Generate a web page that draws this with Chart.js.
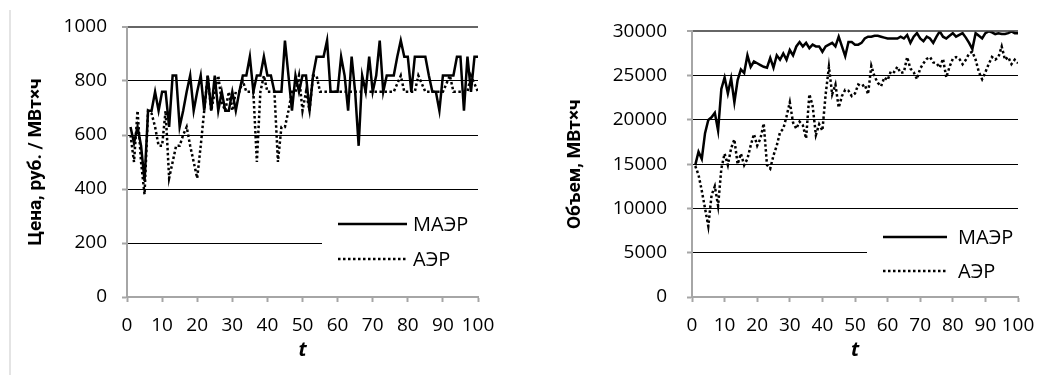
<!DOCTYPE html>
<html>
<head>
<meta charset="utf-8">
<script src="https://cdn.jsdelivr.net/npm/chart.js@4.4.1/dist/chart.umd.min.js"></script>
<style>
html, body { margin: 0; padding: 0; background: #fff; }
#wrap { position: relative; width: 1060px; height: 375px; overflow: hidden; }
.panel { position: absolute; top: 0; width: 530px; height: 375px; }
#edge { position: absolute; left: 9px; top: 10px; width: 2px; height: 365px; background: #e4e4e4; }
</style>
</head>
<body>
<div id="wrap">
    <div id="edge"></div>
    <div class="panel" style="left:0"><canvas id="price-chart"></canvas></div>
    <div class="panel" style="left:530px"><canvas id="volume-chart"></canvas></div>
</div>
<script>
const tValues = [
    1, 2, 3, 4, 5, 6, 7, 8, 9, 10,
    11, 12, 13, 14, 15, 16, 17, 18, 19, 20,
    21, 22, 23, 24, 25, 26, 27, 28, 29, 30,
    31, 32, 33, 34, 35, 36, 37, 38, 39, 40,
    41, 42, 43, 44, 45, 46, 47, 48, 49, 50,
    51, 52, 53, 54, 55, 56, 57, 58, 59, 60,
    61, 62, 63, 64, 65, 66, 67, 68, 69, 70,
    71, 72, 73, 74, 75, 76, 77, 78, 79, 80,
    81, 82, 83, 84, 85, 86, 87, 88, 89, 90,
    91, 92, 93, 94, 95, 96, 97, 98, 99, 100
];

const seriesNames = ['МАЭР', 'АЭР'];

// цена, руб. / МВт×ч
const priceMaer = [
    630, 570, 630, 560, 430, 690, 690, 760, 690, 760,
    760, 630, 820, 820, 630, 690, 760, 820, 690, 760,
    820, 690, 820, 690, 820, 690, 760, 690, 690, 760,
    690, 760, 820, 820, 890, 760, 820, 820, 890, 820,
    820, 760, 760, 760, 950, 820, 690, 820, 760, 820,
    820, 690, 820, 890, 890, 890, 950, 760, 760, 760,
    890, 820, 690, 890, 760, 560, 820, 760, 890, 760,
    820, 950, 760, 820, 820, 820, 890, 950, 890, 890,
    760, 890, 890, 890, 890, 820, 760, 760, 690, 820,
    820, 820, 820, 890, 890, 690, 890, 760, 890, 890
];
const priceAer = [
    600, 500, 690, 500, 380, 690, 680, 630, 560, 560,
    690, 440, 500, 560, 560, 600, 630, 560, 500, 440,
    560, 690, 820, 690, 760, 820, 720, 690, 760, 690,
    760, 760, 800, 760, 760, 760, 500, 760, 820, 760,
    760, 760, 500, 630, 630, 690, 760, 760, 820, 690,
    760, 690, 820, 820, 760, 760, 760, 760, 760, 760,
    760, 760, 760, 760, 760, 760, 760, 760, 760, 760,
    760, 760, 760, 760, 760, 760, 790, 820, 760, 760,
    760, 760, 820, 790, 760, 760, 760, 760, 760, 760,
    790, 820, 760, 760, 760, 760, 760, 820, 790, 760
];

// объем, МВт×ч
const volumeMaer = [
    14900, 16400, 15600, 18500, 20000, 20300, 20800, 18800, 23500, 24800,
    23000, 24700, 22000, 24500, 25700, 25300, 27300, 26000, 26600, 26400,
    26200, 26000, 25900, 27000, 25900, 27300, 26800, 27500, 26800, 27900,
    27300, 28300, 28800, 28300, 28700, 28100, 28500, 28300, 28300, 27700,
    28300, 28500, 28700, 28300, 29400, 28300, 27200, 28800, 28800, 28500,
    28500, 28700, 29200, 29400, 29400, 29500, 29500, 29400, 29300, 29200,
    29200, 29200, 29200, 29400, 29200, 29600, 28700, 29400, 29800, 29200,
    28900, 29400, 29200, 28700, 29400, 30000, 29400, 29200, 29500, 29800,
    29400, 29600, 29800, 29300, 28700, 28000, 29800, 29500, 29200, 29800,
    30000, 29900, 29700, 29800, 29700, 29700, 29800, 30000, 29800, 29800
];
const volumeAer = [
    14800, 13800, 12000, 10000, 8000, 11500, 12500, 10300, 14500, 16200,
    14900, 16800, 17800, 15000, 16200, 14900, 15600, 17100, 18400, 17100,
    17900, 19600, 14900, 14500, 16000, 17100, 18600, 19000, 20400, 22000,
    19700, 19000, 19800, 19400, 17900, 22900, 21600, 18300, 19500, 18800,
    22900, 26000, 22900, 24000, 21400, 22700, 23400, 23300, 22700, 23000,
    24000, 23800, 24000, 22900, 26100, 24900, 24200, 23800, 24800, 24500,
    25500, 25400, 26000, 25300, 25400, 27100, 25800, 25400, 24600, 25800,
    26400, 26900, 27100, 26500, 26400, 25900, 26900, 24800, 26000, 26900,
    27100, 26900, 26300, 26800, 27500, 27700, 26800, 25400, 24600, 25400,
    26300, 27100, 26800, 27100, 28300, 26800, 27100, 26300, 26800, 26400
];

const priceTicks = [0, 200, 400, 600, 800, 1000];
const volumeTicks = [0, 5000, 10000, 15000, 20000, 25000, 30000];
const tTicks = [0, 10, 20, 30, 40, 50, 60, 70, 80, 90, 100];

const FONT = '"Open Sans", "DejaVu Sans", sans-serif';
const TITLE_FONT = 'Roboto, "Open Sans", sans-serif';
const AXIS_GREY = '#a6a6a6';

// legend drawn inside the plot on a white box, as in the original figure
const insideLegend = {
    id: 'insideLegend',
    afterDatasetsDraw(chart, args, opts) {
        const ctx = chart.ctx;
        ctx.save();
        ctx.fillStyle = '#fff';
        ctx.fillRect(opts.box[0], opts.box[1], opts.box[2], opts.box[3]);
        chart.data.datasets.forEach((ds, i) => {
            const y = opts.rowY[i];
            ctx.strokeStyle = ds.borderColor;
            ctx.lineWidth = ds.borderWidth;
            ctx.lineCap = 'butt';
            ctx.setLineDash(ds.borderDash || []);
            ctx.beginPath();
            ctx.moveTo(opts.lineX[0], y);
            ctx.lineTo(opts.lineX[1], y);
            ctx.stroke();
            ctx.setLineDash([]);
            ctx.fillStyle = '#000';
            ctx.font = '20px ' + FONT;
            ctx.textBaseline = 'middle';
            ctx.textAlign = 'left';
            ctx.fillText(ds.label, opts.textX, y + 1);
        });
        ctx.restore();
    }
};

function toPoints(values) {
    return values.map((v, i) => ({ x: tValues[i], y: v }));
}

function buildDatasets(solid, dotted) {
    return [{
        label: seriesNames[0],
        data: toPoints(solid),
        borderColor: '#000',
        borderWidth: 2.5,
        pointRadius: 0,
        tension: 0,
        fill: false
    }, {
        label: seriesNames[1],
        data: toPoints(dotted),
        borderColor: '#000',
        borderWidth: 2.5,
        borderDash: [2.5, 2.5],
        pointRadius: 0,
        tension: 0,
        fill: false
    }];
}

function createPanel(id, cfg) {
    const ctx = document.getElementById(id);
    if (!ctx) {
        console.error('Canvas element not found: ' + id);
        return null;
    }
    const yMax = cfg.yTicks[cfg.yTicks.length - 1];

    return new Chart(ctx, {
        type: 'line',
        data: {
            datasets: buildDatasets(cfg.solid, cfg.dotted)
        },
        options: {
            responsive: true,
            maintainAspectRatio: false,
            animation: false,
            devicePixelRatio: 1,
            layout: {
                padding: cfg.padding
            },
            plugins: {
                legend: { display: false },
                tooltip: { enabled: false },
                insideLegend: cfg.legend
            },
            scales: {
                x: {
                    type: 'linear',
                    min: 0,
                    max: 100,
                    afterFit: s => { s.height = 78; },
                    afterBuildTicks: s => { s.ticks = tTicks.map(v => ({ value: v })); },
                    ticks: {
                        color: '#000',
                        padding: 12,
                        maxRotation: 0,
                        autoSkip: false,
                        callback: v => String(v),
                        font: { family: FONT, size: 19 }
                    },
                    grid: {
                        drawOnChartArea: false,
                        drawTicks: true,
                        tickLength: 5,
                        tickColor: AXIS_GREY,
                        tickWidth: 2
                    },
                    border: { color: AXIS_GREY, width: 2 },
                    title: {
                        display: true,
                        text: 't',
                        color: '#000',
                        font: { family: FONT, size: 20, weight: 'bold', style: 'italic' },
                        padding: { top: 0, bottom: 13 }
                    }
                },
                y: {
                    min: 0,
                    max: yMax,
                    afterFit: s => { s.width = cfg.yWidth; },
                    afterBuildTicks: s => { s.ticks = cfg.yTicks.map(v => ({ value: v })); },
                    ticks: {
                        color: '#000',
                        padding: cfg.tickPad,
                        callback: v => String(v),
                        font: { family: FONT, size: 19 }
                    },
                    grid: {
                        color: c => {
                            if (c.tick && c.tick.value === 0) return 'rgba(0,0,0,0)';
                            if (c.tick && c.tick.value === yMax) return '#666';
                            return '#000';
                        },
                        lineWidth: c => (c.tick && c.tick.value === yMax) ? 2 : 1,
                        tickLength: 5,
                        tickColor: AXIS_GREY,
                        tickWidth: 2
                    },
                    border: { color: AXIS_GREY, width: 2 },
                    title: {
                        display: true,
                        text: cfg.yTitle,
                        color: '#000',
                        font: { family: TITLE_FONT, size: 19, weight: 'bold' },
                        padding: { top: cfg.titlePad, bottom: 0 }
                    }
                }
            }
        },
        plugins: [insideLegend]
    });
}

createPanel('price-chart', {
    solid: priceMaer,
    dotted: priceAer,
    yTicks: priceTicks,
    yTitle: 'Цена, руб. / МВт×ч',
    yWidth: 127,
    tickPad: 15,
    titlePad: 25,
    padding: { left: 0, right: 52, top: 27, bottom: 0 },
    legend: { box: [322, 201, 175, 82], lineX: [338, 407], rowY: [224, 259], textX: 413 }
});

createPanel('volume-chart', {
    solid: volumeMaer,
    dotted: volumeAer,
    yTicks: volumeTicks,
    yTitle: 'Объем, МВт×ч',
    yWidth: 162,
    tickPad: 20,
    titlePad: 34,
    padding: { left: 0, right: 42, top: 28, bottom: 0 },
    legend: { box: [337, 215, 170, 78], lineX: [353, 417], rowY: [237, 271], textX: 428 }
});
</script>
</body>
</html>
